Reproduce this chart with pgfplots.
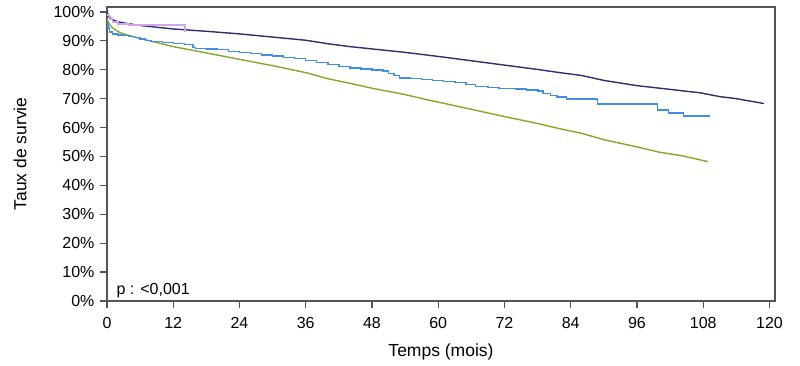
\documentclass[border=0pt]{standalone}
\usepackage{fontspec}
\setmainfont{Liberation Sans}
\usepackage{pgfplots}
\pgfplotsset{compat=1.18}
\definecolor{navyc}{HTML}{312E6E}
\definecolor{bluec}{HTML}{3F8FE6}
\definecolor{greenc}{HTML}{86A829}
\definecolor{violetc}{HTML}{CFA6EA}
\definecolor{framec}{HTML}{555555}
\begin{document}
\begin{tikzpicture}
\path[use as bounding box] (-107pt,-64pt) rectangle (693pt,301pt);
\begin{axis}[
  at={(0,0)}, anchor=south west,
  scale only axis, width=668pt, height=294pt,
  xmin=0, xmax=121, ymin=0, ymax=101.7,
  xtick={0,12,...,120}, ytick={0,10,...,100},
  yticklabel={\pgfmathprintnumber{\tick}\%},
  /pgf/number format/assume math mode=true,
  xtick pos=bottom, ytick pos=left,
  tick align=outside, major tick length=7pt,
  tick style={framec, line width=1.2pt},
  axis line style={framec, line width=1.2pt},
  tick label style={font=\fontsize{16}{19}\selectfont},
  yticklabel style={xshift=-2pt},
  xticklabel style={yshift=-6pt},
  label style={font=\fontsize{17.5}{21}\selectfont},
  xlabel={Temps (mois)}, ylabel={Taux de survie},
  xlabel style={at={(axis description cs:0.5,-0.1895)}, anchor=base},
  ylabel style={at={(axis description cs:-0.1302,0.5)}, anchor=center},
  clip=true,
]
\addplot[navyc, line width=1.4pt] coordinates {
(0,100) (0.3,98.5) (1,97.3) (2,96.6) (3,96.2) (6,95.3) (12,94.1) (18,93.3)
(24,92.4) (30,91.3) (36,90.2) (40,89.0) (44,88.0) (48,87.2) (54,86.0)
(60,84.6) (66,83.1) (72,81.6) (78,80.1) (82,79.0) (86,78.0) (90,76.3)
(96,74.5) (102,73.2) (107.5,72.0) (111,70.7) (114,70.0) (116,69.3)
(117,69.0) (119,68.3)};
\addplot[greenc, line width=1.4pt] coordinates {
(0,97.5) (0.5,95.5) (1,94.5) (2,93.2) (3,92.4) (6,90.8) (9,89.4) (12,88.0)
(18,85.8) (24,83.6) (30,81.4) (36,79.0) (40,76.9) (44,75.3) (48,73.6)
(54,71.4) (58.5,69.4) (60,68.8) (66,66.3) (72,63.8) (78,61.4) (82,59.6)
(86,58.0) (90,55.8) (96,53.3) (100,51.5) (104,50.3) (107.5,48.8) (108.8,48.2)};
\addplot[bluec, line width=1.4pt, const plot] coordinates {
(0,96) (0.2,94.5) (0.5,93) (1,92.4) (2,92.0) (3,91.8) (4,91.5) (5,91.2)
(6,90.6) (7,90.1) (8,89.7) (10,89.4) (12,89.1) (14,88.8) (15.6,87.6)
(16,87.4) (18,87.2) (20,86.9) (22,86.4) (24,86.0) (26,85.6) (28,85.1)
(30,84.7) (32,84.3) (34,83.8) (36,83.2) (38,82.6) (40,81.9) (42,81.2)
(44,80.6) (46,80.2) (48,79.9) (50,79.6) (51,78.8) (52,78.0) (53,77.2)
(55,76.9) (57,76.6) (59,76.3) (61,76.0) (63,75.6) (65,74.9) (66.7,74.2)
(69,73.9) (71,73.6) (74,73.3) (76,73.0) (78.1,72.6) (79,71.8) (80.3,71.1)
(81.5,70.5) (83.2,69.9) (88.8,68.2) (99.7,66.1) (101.7,65.0) (104.4,64.0)
(109.3,64.0)};
\addplot[violetc, line width=1.4pt, const plot] coordinates {
(0,99) (0.5,97.5) (1,96.5) (2,95.8) (4,95.5) (14.1,93.2) (14.1,93.2)};
\node[anchor=base west, font=\fontsize{16}{19}\selectfont] at (axis cs:1.1,2.1) {p : <0,001};
\end{axis}
\end{tikzpicture}
\end{document}
